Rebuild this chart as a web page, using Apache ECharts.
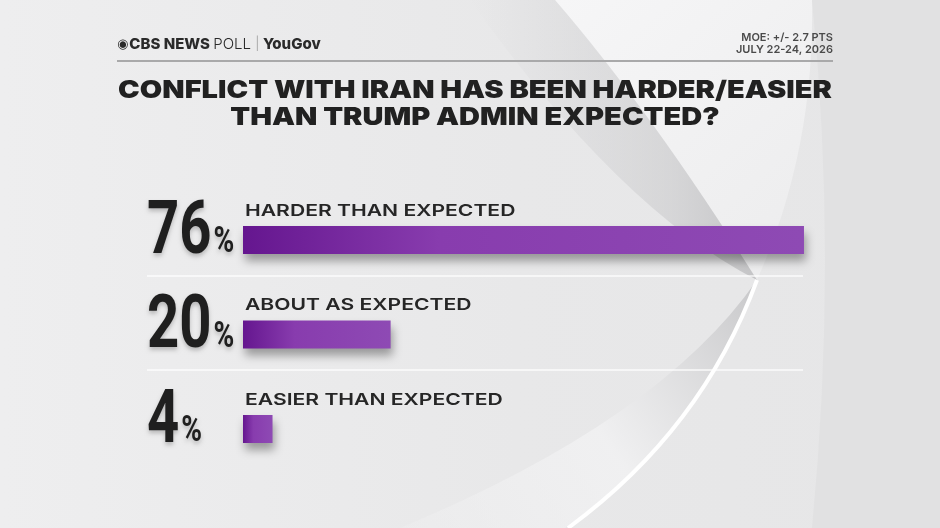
<!DOCTYPE html>
<html>
<head>
<meta charset="utf-8">
<script src="https://cdn.jsdelivr.net/npm/echarts@6/dist/echarts.min.js"></script>
<style>
  html, body { margin: 0; padding: 0; }
  #chart { width: 940px; height: 528px; }
</style>
</head>
<body>
<div id="chart"></div>
<script>
// poll answers, top to bottom
const categories = ['HARDER THAN EXPECTED', 'ABOUT AS EXPECTED', 'EASIER THAN EXPECTED'];
const values = [76, 20, 4];

const titleLines = ['CONFLICT WITH IRAN HAS BEEN HARDER/EASIER', 'THAN TRUMP ADMIN EXPECTED?'];
const moeLines = ['MOE: +/- 2.7 PTS', 'JULY 22-24, 2026'];

// background swoosh shapes
function regPath(name, d) {
  echarts.graphic.registerShape(name, echarts.graphic.extendPath(d, {}));
}
regPath('bgRight', 'M 812 0 Q 838 260 812 528 L 940 528 L 940 0 Z');
regPath('bgWhite', 'M 555 0 Q 650 110 757 280 Q 815 150 812 0 Z');
regPath('bgShade', 'M 555 0 Q 650 110 757 280 Q 620 210 470 0 Z');
regPath('bgLower', 'M 757 280 Q 700 430 565 528 L 400 528 Q 660 420 757 280 Z');
regPath('bgLine', 'M 757 280 Q 702 430 568 528');

const chart = echarts.init(document.getElementById('chart'));

const barColor = new echarts.graphic.LinearGradient(0, 0, 1, 0, [
  { offset: 0, color: '#65168f' },
  { offset: 0.35, color: '#883cae' },
  { offset: 1, color: '#8e4ab4' }
]);

const numFont = { family: 'Roboto', size: 74, pSize: 37, squeeze: 0.76 };
const measureCtx = document.createElement('canvas').getContext('2d');
function numWidth(t) {
  measureCtx.font = 'bold ' + numFont.size + 'px ' + numFont.family;
  return measureCtx.measureText(t).width * numFont.squeeze;
}

const txtShadow = { textShadowColor: 'rgba(0,0,0,0.22)', textShadowBlur: 4, textShadowOffsetY: 3 };

// big percentage + answer text, placed on the bar's band
function renderLabels(params, api) {
  const idx = api.value(1);
  const pt = api.coord([0, idx]);
  const num = String(api.value(0));
  const nx = pt[0] - 96;
  return {
    type: 'group',
    children: [
      {
        type: 'text', x: nx, y: pt[1] - 6, scaleX: numFont.squeeze,
        style: Object.assign({
          text: num, align: 'left', verticalAlign: 'middle',
          fontFamily: numFont.family, fontWeight: 'bold', fontSize: numFont.size, fill: '#1f1f1f'
        }, txtShadow)
      },
      {
        type: 'text', x: nx + numWidth(num) + 2, y: pt[1] + 3, scaleX: numFont.squeeze,
        style: Object.assign({
          text: '%', align: 'left', verticalAlign: 'middle',
          fontFamily: numFont.family, fontWeight: 'bold', fontSize: numFont.pSize, fill: '#1f1f1f'
        }, txtShadow)
      },
      {
        type: 'text', x: pt[0] + 2, y: pt[1] - 29, scaleX: 1.28,
        style: {
          text: categories[idx],
          align: 'left', verticalAlign: 'middle',
          fontFamily: 'Inter', fontWeight: 600, fontSize: 16.5, fill: '#262626'
        }
      }
    ]
  };
}

const option = {
  backgroundColor: '#e7e7e8',
  animation: false,
  graphic: [
    {
      type: 'rect', z: -100, silent: true,
      shape: { x: 0, y: 0, width: 940, height: 528 },
      style: {
        fill: new echarts.graphic.LinearGradient(0, 0, 1, 0, [
          { offset: 0, color: '#eeeeef' },
          { offset: 0.55, color: '#e8e8e9' },
          { offset: 1, color: '#e6e6e7' }
        ])
      }
    },
    { type: 'bgRight', z: -99, silent: true, style: { fill: '#e1e1e2' } },
    {
      type: 'bgWhite', z: -98, silent: true,
      style: {
        fill: new echarts.graphic.LinearGradient(0, 0, 1, 1, [
          { offset: 0, color: '#f6f6f7' },
          { offset: 1, color: '#ececed' }
        ])
      }
    },
    {
      type: 'bgShade', z: -98, silent: true,
      style: {
        fill: new echarts.graphic.LinearGradient(0, 0, 1, 0, [
          { offset: 0, color: 'rgba(205,205,207,0)' },
          { offset: 0.7, color: 'rgba(200,200,202,0.55)' },
          { offset: 1, color: 'rgba(192,192,194,0.9)' }
        ])
      }
    },
    {
      type: 'bgLower', z: -97, silent: true,
      style: {
        fill: new echarts.graphic.LinearGradient(1, 0, 0, 1, [
          { offset: 0, color: 'rgba(198,198,200,0.95)' },
          { offset: 0.5, color: 'rgba(242,242,243,0.8)' },
          { offset: 1, color: 'rgba(244,244,245,0.2)' }
        ])
      }
    },
    { type: 'bgLine', z: -96, silent: true, style: { fill: null, stroke: '#ffffff', lineWidth: 4 } },
    // header
    {
      type: 'text', left: 117, top: 37,
      style: {
        text: '{eye|◉}{b|CBS NEWS }{l|POLL }{s|| }{b|YouGov}',
        rich: {
          eye: { fontSize: 13, fill: '#2a2a2a', fontFamily: 'DejaVu Sans', padding: [0, 1, 0, 0] },
          b: { fontSize: 15, fontWeight: 800, fill: '#2a2a2a', fontFamily: 'Inter' },
          l: { fontSize: 15, fontWeight: 300, fill: '#2a2a2a', fontFamily: 'Inter' },
          s: { fontSize: 13, fontWeight: 300, fill: '#9a9a9a', fontFamily: 'Inter' }
        }
      }
    },
    {
      type: 'text', right: 107, top: 31,
      style: {
        text: moeLines.join('\n'),
        textAlign: 'right',
        fontSize: 11, fontWeight: 600, lineHeight: 12.5,
        fontFamily: 'Inter', fill: '#4a4a4a'
      }
    },
    {
      type: 'line', silent: true,
      shape: { x1: 117, y1: 61, x2: 833, y2: 61 },
      style: { stroke: '#a9a9aa', lineWidth: 2 }
    },
    {
      type: 'text', x: 475, y: 77.5, scaleX: 1.185,
      style: {
        text: titleLines.join('\n'),
        textAlign: 'center',
        fontSize: 24.5, fontWeight: 900, lineHeight: 27,
        fontFamily: 'Inter', fill: '#212121'
      }
    }
  ],
  grid: [
    { left: 243, right: 106.5, top: 192.75, height: 283.5 },
    { left: 147, right: 137, top: 275.5, height: 94.5 }
  ],
  xAxis: [
    { type: 'value', min: 0, max: 80, show: false, gridIndex: 0 },
    { type: 'value', min: 0, max: 1, show: false, gridIndex: 1 }
  ],
  yAxis: [
    {
      type: 'category', gridIndex: 0, inverse: true, data: categories,
      axisLine: { show: false }, axisTick: { show: false }, splitLine: { show: false },
      axisLabel: { show: false }
    },
    {
      type: 'value', gridIndex: 1, min: 0, max: 1, interval: 1,
      axisLine: { show: false }, axisTick: { show: false }, axisLabel: { show: false },
      splitLine: { show: true, lineStyle: { color: 'rgba(255,255,255,0.85)', width: 1.5 } }
    }
  ],
  series: [
    {
      type: 'bar', data: values, barWidth: 28,
      xAxisIndex: 0, yAxisIndex: 0,
      itemStyle: {
        color: barColor,
        shadowColor: 'rgba(0,0,0,0.35)', shadowBlur: 10, shadowOffsetY: 7, shadowOffsetX: 2
      }
    },
    {
      type: 'custom', xAxisIndex: 0, yAxisIndex: 0, z: 5, clip: false, silent: true,
      data: values.map((v, i) => [v, i]),
      renderItem: renderLabels
    },
    { type: 'line', data: [], xAxisIndex: 1, yAxisIndex: 1 }
  ]
};

chart.setOption(option);
</script>
</body>
</html>
